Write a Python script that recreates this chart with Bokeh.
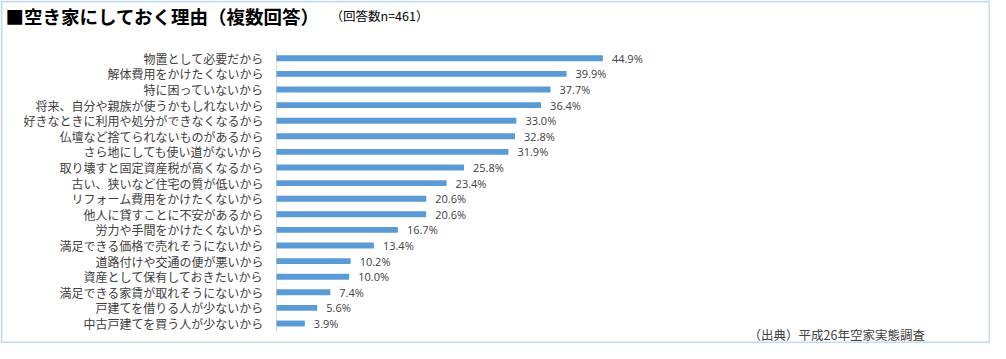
from bokeh.plotting import figure
from bokeh.models import ColumnDataSource, Range1d, Label, BoxAnnotation
from bokeh.core.properties import value
from bokeh.embed import file_html
from bokeh.resources import INLINE

categories = [
    "物置として必要だから",
    "解体費用をかけたくないから",
    "特に困っていないから",
    "将来、自分や親族が使うかもしれないから",
    "好きなときに利用や処分ができなくなるから",
    "仏壇など捨てられないものがあるから",
    "さら地にしても使い道がないから",
    "取り壊すと固定資産税が高くなるから",
    "古い、狭いなど住宅の質が低いから",
    "リフォーム費用をかけたくないから",
    "他人に貸すことに不安があるから",
    "労力や手間をかけたくないから",
    "満足できる価格で売れそうにないから",
    "道路付けや交通の便が悪いから",
    "資産として保有しておきたいから",
    "満足できる家賃が取れそうにないから",
    "戸建てを借りる人が少ないから",
    "中古戸建てを買う人が少ないから",
]
values = [44.9, 39.9, 37.7, 36.4, 33.0, 32.8, 31.9, 25.8, 23.4, 20.6,
          20.6, 16.7, 13.4, 10.2, 10.0, 7.4, 5.6, 3.9]
title_text = "■空き家にしておく理由（複数回答）"
subtitle_text = "（回答数n=461）"
source_text = "（出典）平成26年空家実態調査"

W, H = 990, 343
JP = "Noto Sans CJK JP"
TXT = "#404040"

n = len(categories)
src = ColumnDataSource(dict(
    idx=list(range(n)),
    cat=categories,
    val=values,
    lab=[f"{v:.1f}%" for v in values],
))

# layout: plot area starts at canvas x=276, rows from canvas y=50, 15.6 px per row
PX_PER_UNIT = 7.269
ROW = 15.6
TOP = 50
x0 = -276 / PX_PER_UNIT
x1 = (W - 276) / PX_PER_UNIT
y_top = -TOP / ROW - 0.5
y_bot = (H - TOP) / ROW - 0.5

p = figure(width=W, height=H, output_backend="svg", toolbar_location=None,
           x_range=Range1d(x0, x1), y_range=Range1d(y_bot, y_top),
           min_border=0)

p.xaxis.visible = False
p.yaxis.visible = False
p.xgrid.visible = False
p.ygrid.visible = False
p.outline_line_color = None

# axis line
p.segment(x0=[0], x1=[0], y0=[-0.5], y1=[n - 0.5], line_color="#d9d9d9", line_width=1)

p.hbar(y="idx", left=0, right="val", height=0.38, source=src,
       fill_color="#5B9BD5", line_color=None)

# category labels
p.text(x=0, y="idx", text="cat", source=src, x_offset=-13,
       text_align="right", text_baseline="middle", text_font_size="12px",
       text_color=TXT, text_font=value(JP))

# value labels
p.text(x="val", y="idx", text="lab", source=src, x_offset=9,
       text_align="left", text_baseline="middle", text_font_size="11px",
       text_color=TXT, text_font=value("Open Sans"))

p.add_layout(Label(x=5, y=15, x_units="canvas", y_units="canvas",
                   text=title_text, text_baseline="middle",
                   text_font_size="18.5px", text_font_style="bold",
                   text_font=JP, text_color="#000000"))
p.add_layout(Label(x=330, y=15, x_units="canvas", y_units="canvas",
                   text=subtitle_text, text_baseline="middle",
                   text_font_size="12.5px", text_font=JP, text_color="#000000"))
p.add_layout(Label(x=748, y=334, x_units="canvas", y_units="canvas",
                   text=source_text, text_baseline="middle",
                   text_font_size="12.5px", text_font=JP, text_color=TXT))

p.add_layout(BoxAnnotation(left=1, right=W - 1, top=1, bottom=H - 1,
                           left_units="canvas", right_units="canvas",
                           bottom_units="canvas", top_units="canvas",
                           fill_color=None, line_color="#3a86cc", line_width=2))

open("out.html", "w").write(file_html(p, INLINE))
